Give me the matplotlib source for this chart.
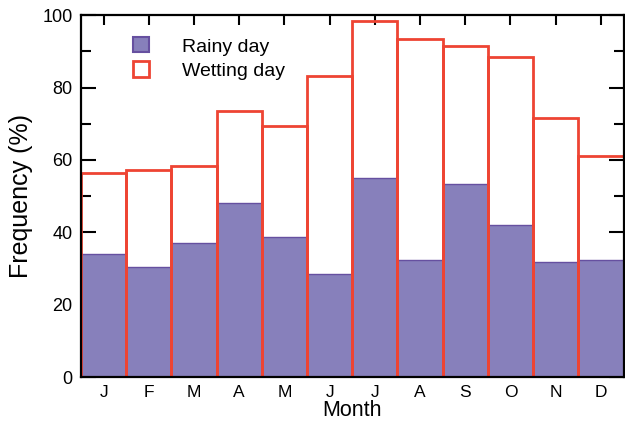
import numpy as np
import matplotlib.pyplot as plt
from matplotlib.patches import Patch

plt.rcParams['font.family'] = ['Liberation Sans', 'DejaVu Sans']

# monthly frequencies (%)
months = ['J', 'F', 'M', 'A', 'M', 'J', 'J', 'A', 'S', 'O', 'N', 'D']
rainy = [33.9, 30.4, 37.1, 48.2, 38.8, 28.5, 55.0, 32.3, 53.3, 42.0, 31.8, 32.3]
wetting = [56.5, 57.2, 58.2, 73.4, 69.4, 83.1, 98.4, 93.5, 91.6, 88.5, 71.7, 61.2]

purple_fill = '#8780bb'
purple_edge = '#6650a0'
red = '#ee4433'

fig = plt.figure(figsize=(6.25, 4.21), dpi=100)
ax = fig.add_axes([0.1296, 0.1045, 0.868, 0.8595])

x = np.arange(1, len(months) + 1)
ax.bar(x, rainy, width=1.0, color=purple_fill, edgecolor=purple_edge,
       linewidth=1.0, zorder=2)
ax.bar(x, wetting, width=1.0, facecolor='none', edgecolor=red,
       linewidth=2.0, zorder=3)

ax.set_xlim(0.5, 12.5)
ax.set_ylim(0, 100)

# month ticks, with longer marks at May and October
ax.set_xticks(x)
ax.set_xticklabels(months, fontsize=12.5)
ax.set_xticks([5, 10], minor=True)
ax.set_yticks([0, 20, 40, 60, 80, 100])
ax.set_yticks(np.arange(10, 100, 20), minor=True)
ax.tick_params(axis='y', labelsize=13)

ax.tick_params(which='major', axis='x', direction='in', length=7,
               width=1.5, top=True, pad=6)
ax.tick_params(which='minor', axis='x', direction='in', length=11,
               width=1.5, top=True)
ax.tick_params(which='major', axis='y', direction='in', length=11,
               width=1.5, right=True, pad=6)
ax.tick_params(which='minor', axis='y', direction='in', length=7,
               width=1.5, right=True)
for s in ax.spines.values():
    s.set_linewidth(1.6)
    s.set_zorder(4)

ax.set_xlabel('Month', fontsize=15.5, labelpad=0)
ax.set_ylabel('Frequency (%)', fontsize=18, labelpad=7)

handles = [Patch(facecolor=purple_fill, edgecolor=purple_edge, linewidth=1.5),
           Patch(facecolor='white', edgecolor=red, linewidth=2.0)]
ax.legend(handles, ['Rainy day', 'Wetting day'], loc='upper left',
          bbox_to_anchor=(0.096, 0.939), frameon=False, fontsize=14,
          handlelength=0.82, handleheight=0.82, handletextpad=1.7,
          labelspacing=0.3, borderpad=0, borderaxespad=0)

fig.savefig('out.png', dpi=100)
